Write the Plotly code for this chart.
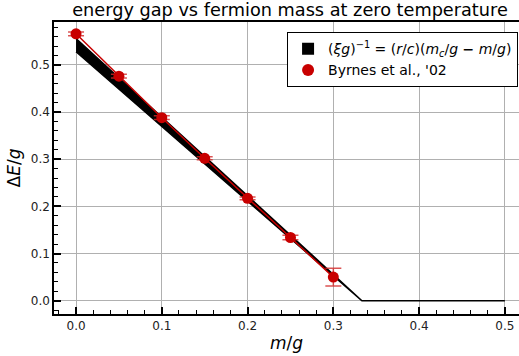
import plotly.graph_objects as go

# Byrnes et al. data
m_data = [0.0, 0.05, 0.10, 0.15, 0.20, 0.25, 0.30]
gap_data = [0.566, 0.476, 0.388, 0.302, 0.217, 0.134, 0.050]
gap_err = [0.004, 0.004, 0.004, 0.003, 0.003, 0.005, 0.019]

# band (xi g)^-1 = (r/c)(m_c/g - m/g)
m_c = 1.0 / 3.0
band_x = [0.0, m_c, 0.5]
band_upper = [0.556, 0.0, 0.0]
band_lower = [0.528, 0.0, 0.0]

RED = "#c80000"
BAND_LABEL = ("(<i>ξg</i>)<sup>−1</sup> = (<i>r</i>/<i>c</i>)(<i>m</i><sub><i>c</i></sub>/<i>g</i>"
              " <b>−</b> <i>m</i>/<i>g</i>)")

fig = go.Figure()

fig.add_trace(go.Scatter(
    x=band_x + band_x[::-1],
    y=band_upper + band_lower[::-1],
    fill="toself", fillcolor="black",
    line=dict(color="black", width=1.5),
    mode="lines", showlegend=False,
))

fig.add_trace(go.Scatter(
    x=m_data, y=gap_data,
    mode="lines+markers",
    line=dict(color=RED, width=1.5),
    marker=dict(color=RED, size=11),
    error_y=dict(type="data", array=gap_err, visible=True, color="rgba(210,40,40,0.8)",
                 thickness=1.5, width=8),
    showlegend=False,
))

# legend entries
fig.add_trace(go.Scatter(
    x=[None], y=[None], mode="markers",
    marker=dict(symbol="square", color="black", size=14),
    name=BAND_LABEL,
))
fig.add_trace(go.Scatter(
    x=[None], y=[None], mode="markers",
    marker=dict(symbol="circle", color=RED, size=12),
    name="Byrnes et al., '02",
))

axis_common = dict(
    showgrid=True, gridcolor="#b0b0b0", gridwidth=1,
    zeroline=False,
    showline=True, linecolor="black", linewidth=1.5,
    ticks="inside", ticklen=7, tickwidth=1.5, tickcolor="black",
    tickfont=dict(family="DejaVu Sans", size=12, color="#222"),
)

fig.update_xaxes(
    **axis_common,
    range=[-0.0257, 0.5165],
    tick0=0, dtick=0.1, tickformat=".1f",
    mirror=True,
    minor=dict(ticks="inside", ticklen=4, tickwidth=1, tickcolor="black",
               dtick=0.02, tick0=0, showgrid=False),
    title=dict(text="<i>m</i>/<i>g</i>", font=dict(family="DejaVu Sans", size=17, color="black"), standoff=5),
)
fig.update_yaxes(
    **axis_common,
    range=[-0.0282, 0.591],
    tick0=0, dtick=0.1, tickformat=".1f",
    mirror=False,
    minor=dict(ticks="inside", ticklen=4, tickwidth=1, tickcolor="black",
               dtick=0.02, tick0=0, showgrid=False),
    title=dict(text="Δ<i>E</i>/<i>g</i>", font=dict(family="DejaVu Sans", size=17, color="black"), standoff=6),
)

fig.update_layout(
    width=519, height=356,
    margin=dict(l=54, r=0, t=22, b=42),
    paper_bgcolor="white", plot_bgcolor="white",
    font=dict(family="DejaVu Sans", color="black"),
    title=dict(text="energy gap vs fermion mass at zero temperature",
               x=(54 + 526) / 2 / 519, xanchor="center", y=0.973, yanchor="middle",
               font=dict(family="DejaVu Sans", size=17.7, color="black")),
    legend=dict(x=0.998, xanchor="right", y=0.965, yanchor="top",
                bgcolor="white", bordercolor="black", borderwidth=1,
                font=dict(family="DejaVu Sans", size=14, color="black"),
                itemsizing="constant", tracegroupgap=0, itemwidth=30),
    showlegend=True,
)

fig.write_html("out.html")
